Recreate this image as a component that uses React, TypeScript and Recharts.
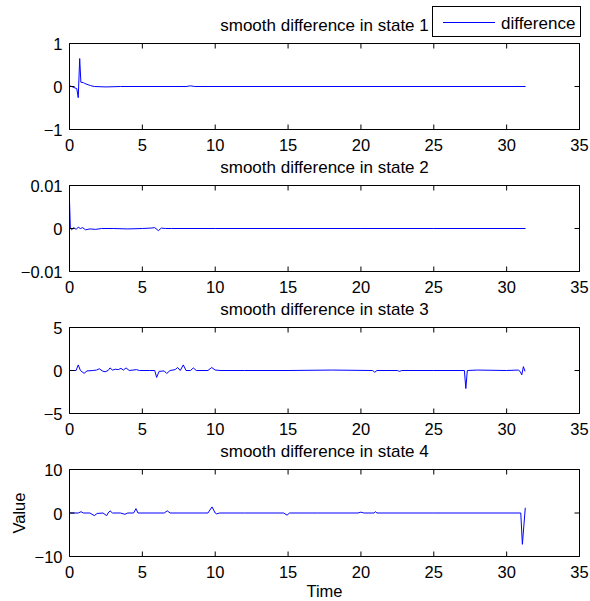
import { LineChart, Line, XAxis, YAxis, Legend } from "recharts";

const FONT = "'Liberation Sans', Arial, Helvetica, sans-serif";
const BLUE = "#0000ff";

const xTicks = [0, 5, 10, 15, 20, 25, 30, 35];

// state 1
const state1Time = [0, 0.5, 0.6, 0.7, 0.78, 0.95, 1.05, 1.2, 1.45, 1.7, 2.5, 3.5, 8.0, 8.3, 8.6, 31.3];
const state1Value = [0.02, -0.05, -0.26, 0.65, 0.1, 0.09, 0.07, 0.05, 0.02, 0.0, -0.01, 0, 0, 0.015, 0, 0];

// state 2
const state2Time = [0, 0.06, 0.15, 0.3, 0.45, 0.6, 0.75, 0.9, 1.1, 1.4, 1.8, 2.2, 3, 4, 5, 5.6, 5.85, 6.1, 6.3, 6.6, 7, 10, 15, 20, 25, 31.3];
const state2Value = [0.0065, 0.0, -0.0003, 0.0002, -0.0002, 0.0003, 0.0, 0.0002, -0.0003, -0.0001, -0.0002, 0, 0, -0.0001, 0, 0.0001, 0.0002, -0.0005, 0.0001, 0, 0, 0, 0, 0, 0, 0];

// state 3
const state3Time = [0, 0.45, 0.6, 0.75, 1.0, 1.2, 1.6, 1.85, 2.05, 2.25, 2.44, 2.65, 2.78, 2.95, 3.15, 3.35, 3.53, 3.7, 3.88, 4.1, 4.6, 4.8, 5.5, 5.85, 5.98, 6.15, 6.5, 6.67, 6.9, 7.25, 7.42, 7.6, 7.81, 8.0, 8.3, 8.5, 8.7, 9.5, 9.76, 10.0, 10.4, 12, 15, 18, 20.8, 20.95, 21.1, 22.5, 22.65, 22.8, 25, 27.1, 27.2, 27.3, 28, 30, 30.8, 30.92, 31.04, 31.15, 31.26];
const state3Value = [0, 0, 0.65, 0, -0.33, -0.05, 0, 0.05, 0.2, -0.05, -0.15, 0, 0.3, 0.05, 0.15, 0.1, 0.25, 0.05, 0.3, 0, 0.1, 0, 0, 0, -0.8, -0.1, -0.05, -0.35, 0, 0.1, 0.35, 0, 0.65, 0, 0, 0.3, 0, 0, 0.35, 0.05, 0, 0, 0, 0.05, 0, -0.2, 0, 0, -0.1, 0, 0, 0, -2.1, 0, 0.05, 0, 0.05, -0.1, -0.5, 0.45, -0.1];

// state 4
const state4Time = [0, 0.6, 0.79, 0.95, 1.4, 1.7, 1.9, 2.3, 2.55, 2.65, 2.78, 2.95, 3.5, 3.8, 4.0, 4.4, 4.56, 4.7, 6.5, 6.71, 6.9, 9.5, 9.78, 10.0, 10.1, 10.3, 12, 14.7, 14.93, 15.1, 17, 19.8, 20.0, 20.2, 20.9, 21.0, 21.1, 25, 30.97, 31.08, 31.28];
const state4Value = [0, 0, 0.3, 0, 0, -0.6, -0.1, 0, -0.6, 0, 0.5, 0, 0, -0.3, 0, 0, 1.0, 0, 0, 0.5, 0, 0, 1.4, 0, -0.2, 0, 0, 0, -0.5, 0, 0, 0, 0.2, 0, 0, 0.3, 0, 0, 0, -7.2, 1.2];

const panels = [
  { title: "smooth difference in state 1", time: state1Time, value: state1Value, yTicks: [-1, 0, 1] },
  { title: "smooth difference in state 2", time: state2Time, value: state2Value, yTicks: [-0.01, 0, 0.01] },
  { title: "smooth difference in state 3", time: state3Time, value: state3Value, yTicks: [-5, 0, 5] },
  { title: "smooth difference in state 4", time: state4Time, value: state4Value, yTicks: [-10, 0, 10] },
];

const plotHeights = [86, 86, 86, 87];
const CHART_H = 175;
const TOP = 43.5;

const fmt = (v: number) => (v < 0 ? "\u2212" + Math.abs(v) : String(v));

const BottomTick = (props: any) => {
  const { x, y, payload } = props;
  return (
    <g>
      <line x1={x} x2={x} y1={y} y2={y - 5} stroke="#000" />
      <text x={x} y={y + 21} textAnchor="middle" fontSize={16.5} fontFamily={FONT} fill="#000">
        {payload.value}
      </text>
    </g>
  );
};

const TopTick = (props: any) => {
  const { x, y } = props;
  return <line x1={x} x2={x} y1={y} y2={y + 5} stroke="#000" />;
};

const LeftTick = (props: any) => {
  const { x, y, payload } = props;
  return (
    <g>
      <line x1={x} x2={x + 5} y1={y} y2={y} stroke="#000" />
      <text x={x - 7} y={y + 6.5} textAnchor="end" fontSize={16.5} fontFamily={FONT} fill="#000">
        {fmt(payload.value)}
      </text>
    </g>
  );
};

const RightTick = (props: any) => {
  const { x, y } = props;
  return <line x1={x} x2={x - 5} y1={y} y2={y} stroke="#000" />;
};

const LegendBox = ({ payload }: any) => {
  const item = payload && payload[0];
  return (
    <div
      style={{
        width: 147,
        height: 29,
        border: "1px solid #000",
        background: "#fff",
        position: "relative",
        fontFamily: FONT,
        fontSize: 17,
      }}
    >
      <svg width={147} height={29} style={{ position: "absolute", left: 0, top: 0 }}>
        <line x1={10} x2={62} y1={15.5} y2={15.5} stroke={item ? item.color : BLUE} />
        <text x={68} y={22} fontSize={17} fontFamily={FONT} fill="#000">
          {item ? item.value : "difference"}
        </text>
      </svg>
    </div>
  );
};

const axisLineStyle = { stroke: "#000", strokeWidth: 1 };

function Panel({ idx }: { idx: number }) {
  const p = panels[idx];
  const h = plotHeights[idx];
  const data = p.time.map((t, i) => ({ t, v: p.value[i] }));
  const domain = [p.yTicks[0], p.yTicks[2]];
  const last = idx === panels.length - 1;
  return (
    <div style={{ position: "absolute", left: 0, top: idx * 142, width: 590, height: CHART_H }}>
      <LineChart
        width={590}
        height={CHART_H}
        data={data}
        margin={{ top: TOP - 1, right: 9.5, bottom: 0, left: 0 }}
      >
        <XAxis
          dataKey="t"
          type="number"
          domain={[0, 35]}
          ticks={xTicks}
          interval={0}
          height={CHART_H - TOP - h}
          tickSize={0}
          tickMargin={0}
          tickLine={false}
          axisLine={axisLineStyle}
          tick={BottomTick}
          label={
            last
              ? {
                  content: (lp: any) => {
                    const vb = lp.viewBox;
                    return (
                      <text x={vb.x + vb.width / 2} y={vb.y + 40} textAnchor="middle" fontSize={16.5} fontFamily={FONT} fill="#000">
                        Time
                      </text>
                    );
                  },
                }
              : undefined
          }
        />
        <XAxis
          xAxisId="top"
          orientation="top"
          dataKey="t"
          type="number"
          domain={[0, 35]}
          ticks={xTicks}
          interval={0}
          height={1}
          tickSize={0}
          tickMargin={0}
          tickLine={false}
          axisLine={axisLineStyle}
          tick={TopTick}
          label={{
            content: (lp: any) => {
              const vb = lp.viewBox;
              return (
                <text x={vb.x + vb.width / 2} y={vb.y + vb.height - 12.5} textAnchor="middle" fontSize={17} fontFamily={FONT} fill="#000">
                  {p.title}
                </text>
              );
            },
          }}
        />
        <YAxis
          type="number"
          domain={domain}
          ticks={p.yTicks}
          interval={0}
          width={69.5}
          tickSize={0}
          tickMargin={0}
          tickLine={false}
          axisLine={axisLineStyle}
          tick={LeftTick}
          allowDataOverflow
          label={
            last
              ? {
                  content: (lp: any) => {
                    const vb = lp.viewBox;
                    const cy = vb.y + vb.height / 2;
                    return (
                      <text x={24.5} y={cy} transform={`rotate(-90, 24.5, ${cy})`} textAnchor="middle" fontSize={16.5} fontFamily={FONT} fill="#000">
                        Value
                      </text>
                    );
                  },
                }
              : undefined
          }
        />
        <YAxis
          yAxisId="r"
          orientation="right"
          type="number"
          domain={domain}
          ticks={p.yTicks}
          interval={0}
          width={1}
          tickSize={0}
          tickMargin={0}
          tickLine={false}
          axisLine={axisLineStyle}
          tick={RightTick}
          allowDataOverflow
        />
        {idx === 0 && (
          <Legend
            layout="vertical"
            align="center"
            verticalAlign="middle"
            wrapperStyle={{ left: 432, top: 6, width: 149, height: 31 }}
            content={(lp: any) => <LegendBox payload={lp.payload} />}
          />
        )}
        <Line
          dataKey="v"
          name="difference"
          stroke={BLUE}
          strokeWidth={1}
          dot={false}
          type="linear"
          isAnimationActive={false}
        />
      </LineChart>
    </div>
  );
}

export default function App() {
  return (
    <div
      style={{
        position: "absolute",
        left: 0,
        top: 0,
        width: 590,
        height: 601,
        background: "#fff",
        overflow: "hidden",
      }}
    >
      {panels.map((_, i) => (
        <Panel key={i} idx={i} />
      ))}
    </div>
  );
}
